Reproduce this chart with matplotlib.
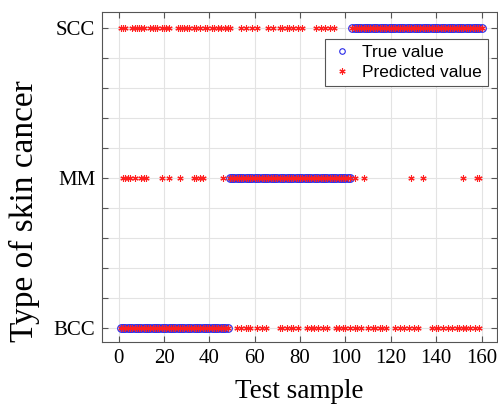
import numpy as np
import matplotlib.pyplot as plt

# test samples and their true class (1 = BCC, 2 = MM, 3 = SCC)
samples = np.arange(1, 161)
true_class = np.array([1] * 48 + [2] * 54 + [3] * 58)

# predicted class read per row of the plot
pred_bcc = list(range(1, 49)) + [52, 54, 56, 57, 58, 61, 63, 65, 71, 72, 74, 76, 77, 79,
                                 83, 85, 86, 88, 90, 92, 96, 97, 99, 100, 102, 104, 105, 107,
                                 110, 112, 113, 115, 116, 118, 122, 124, 126, 128, 130, 132,
                                 138, 140, 141, 143, 145, 147, 149, 150, 152, 153, 155, 157, 159]
pred_mm = [2, 3, 4, 5, 7, 10, 11, 12, 19, 22, 27, 33, 34, 36, 37, 46] + list(range(49, 103)) + \
          [104, 108, 129, 134, 152, 158, 159]
pred_scc = [1, 2, 3, 6, 7, 8, 9, 10, 11, 14, 15, 16, 17, 19, 20, 21, 22, 26, 27, 28, 29, 30,
            31, 33, 34, 36, 38, 39, 41, 42, 44, 45, 47, 48, 49, 54, 56, 59, 61, 66, 68, 71,
            72, 74, 75, 77, 79, 81, 87, 89, 91, 93, 95] + list(range(103, 161))

class_labels = ["BCC", "MM", "SCC"]

fig = plt.figure(figsize=(4.98, 4.05), dpi=100)
ax = fig.add_axes([0.205, 0.156, 0.793, 0.814])

ax.plot(samples, true_class, "o", mfc="none", mec="#2828e8", ms=5.5, mew=0.8, label="True value")
px = pred_bcc + pred_mm + pred_scc
py = [1] * len(pred_bcc) + [2] * len(pred_mm) + [3] * len(pred_scc)
ax.plot(px, py, linestyle="none", marker=(6, 2, 0), color="#ff2020", ms=4.5, mew=0.8,
        label="Predicted value")

ax.set_xlim(-7.3, 166.8)
ax.set_ylim(0.907, 3.107)
ax.set_xticks(np.arange(0, 161, 20))
yt = np.round(np.arange(1, 3.01, 0.2), 1)
ax.set_yticks(yt)
ax.set_yticklabels([class_labels[int(v) - 1] if abs(v - round(v)) < 1e-6 else "" for v in yt])
ax.grid(True, color="#e3e3e3", linewidth=0.8)
ax.set_axisbelow(True)
ax.tick_params(direction="in", top=True, right=True, length=4, color="#555555",
               labelsize=15, pad=5)
for lab in ax.get_xticklabels() + ax.get_yticklabels():
    lab.set_family("Liberation Serif")
for s in ax.spines.values():
    s.set_color("#555555")
    s.set_linewidth(0.8)

ax.set_xlabel("Test sample", family="Liberation Serif", fontsize=19.5, labelpad=8)
ax.set_ylabel("Type of skin cancer", family="Liberation Serif", fontsize=24)
ax.yaxis.set_label_coords(-0.158, 0.395)

leg = ax.legend(loc="upper right", bbox_to_anchor=(0.978, 0.918),
                prop={"family": "Liberation Sans", "size": 12.5},
                fancybox=False, edgecolor="#555555", framealpha=1, handlelength=1.2,
                handletextpad=0.6, borderpad=0.35, labelspacing=0.25, borderaxespad=0)
leg.get_frame().set_linewidth(0.8)
leg.legend_handles[0].set_markersize(4)

fig.savefig("out.png", dpi=100)
